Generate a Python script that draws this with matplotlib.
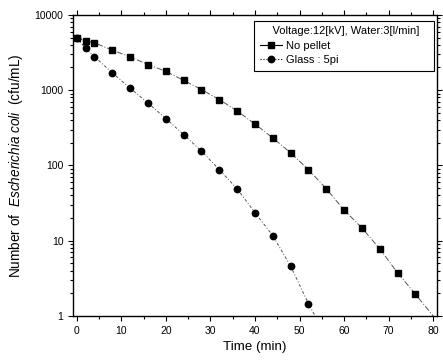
import matplotlib
matplotlib.use("Agg")
import matplotlib.pyplot as plt
from matplotlib.ticker import LogLocator, NullFormatter, FixedLocator

plt.rcParams['font.family'] = ['Liberation Sans', 'DejaVu Sans']
plt.rcParams['mathtext.fontset'] = 'custom'
plt.rcParams['mathtext.it'] = 'Liberation Sans:italic'
plt.rcParams['mathtext.rm'] = 'Liberation Sans'

time_nopellet = [0, 2, 4, 8, 12, 16, 20, 24, 28, 32, 36, 40, 44, 48, 52, 56, 60, 64, 68, 72, 76]
cfu_nopellet = [4900, 4550, 4250, 3400, 2770, 2190, 1780, 1350, 1020, 750, 530, 355, 232, 147, 88, 49, 25.6, 14.8, 7.8, 3.74, 1.95]
time_glass = [0, 2, 4, 8, 12, 16, 20, 24, 28, 32, 36, 40, 44, 48, 52]
cfu_glass = [4900, 3600, 2780, 1700, 1060, 676, 420, 257, 155, 88, 49, 23.6, 11.7, 4.6, 1.46]
# end points where the fitted curves meet the bottom axis
end_nopellet = (80, 1.0)
end_glass = (53.5, 1.0)

fig = plt.figure(figsize=(4.43, 3.63), dpi=100)
ax = fig.add_axes([0.165, 0.1295, 0.821, 0.8295])

ax.plot(time_nopellet + [end_nopellet[0]], cfu_nopellet + [end_nopellet[1]],
        linestyle=(0, (6, 2, 1, 2)), color='#555555', lw=0.7)
ax.plot(time_glass + [end_glass[0]], cfu_glass + [end_glass[1]],
        linestyle=(0, (3, 2, 1, 2)), color='#555555', lw=0.7)
ax.plot(time_nopellet, cfu_nopellet, linestyle='none', marker='s', ms=4.2, color='black')
ax.plot(time_glass, cfu_glass, linestyle='none', marker='o', ms=4.6, color='black')

# legend proxies
h1, = ax.plot([], [], '-', marker='s', ms=4.2, color='black', lw=0.8, label='No pellet')
h2, = ax.plot([], [], ':', marker='o', ms=4.6, color='black', lw=0.8, label='Glass : 5pi')

ax.set_yscale('log')
ax.set_ylim(1, 10000)
ax.set_xlim(-0.8, 80.8)
ax.xaxis.set_major_locator(FixedLocator([0, 10, 20, 30, 40, 50, 60, 70, 80]))
ax.xaxis.set_minor_locator(FixedLocator([5, 15, 25, 35, 45, 55, 65, 75]))
ax.yaxis.set_minor_locator(LogLocator(base=10, subs=range(2, 10), numticks=10))
ax.yaxis.set_minor_formatter(NullFormatter())
ax.set_yticks([1, 10, 100, 1000, 10000])
ax.set_yticklabels(['1', '10', '100', '1000', '10000'])

ax.tick_params(which='both', direction='out', top=True, right=True, labelsize=7.5, width=0.8)
ax.tick_params(which='major', length=3.5)
ax.tick_params(which='minor', length=2)
for s in ax.spines.values():
    s.set_linewidth(1.0)

ax.set_xlabel('Time (min)', fontsize=9.6, labelpad=4)
ax.set_ylabel(r'Number of  $\mathit{Escherichia\ coli}$  (cfu/mL)', fontsize=9.8, labelpad=7)

leg = ax.legend(handles=[h1, h2], title='    Voltage:12[kV], Water:3[l/min]   ', loc='upper right',
                bbox_to_anchor=(0.992, 0.98), fontsize=8, title_fontsize=8,
                fancybox=False, edgecolor='black', framealpha=1, handlelength=2.0,
                borderpad=0.5, labelspacing=0.4, handletextpad=0.4, borderaxespad=0.0)
leg.get_frame().set_linewidth(0.8)
leg._legend_box.align = 'left'

fig.savefig('out.png', dpi=100)
